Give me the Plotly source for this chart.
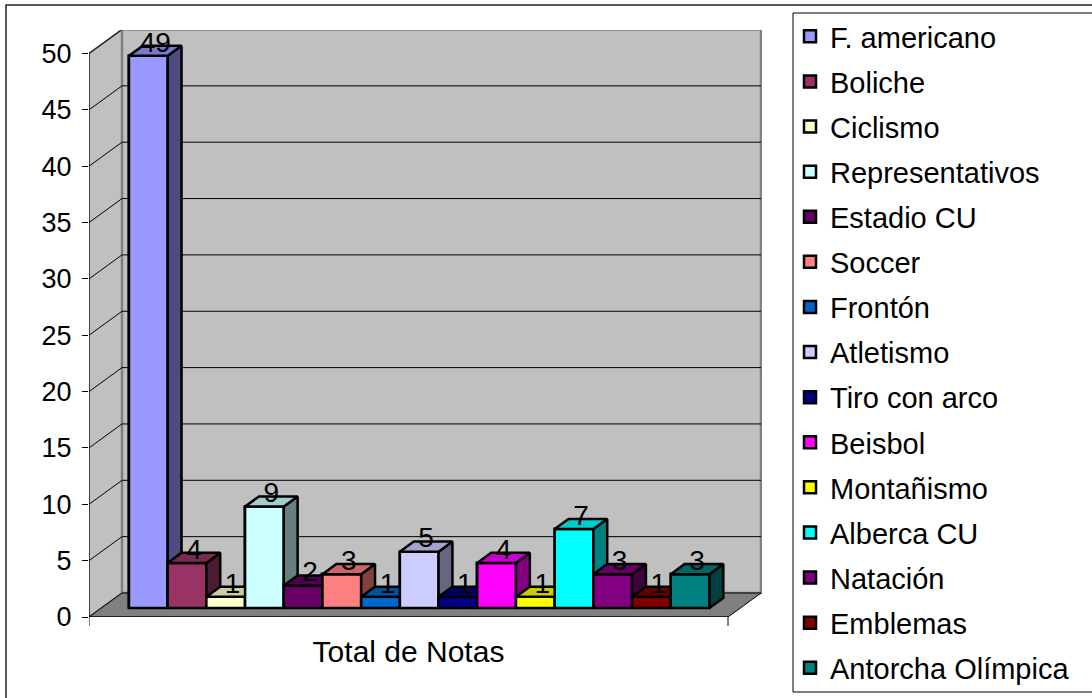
import plotly.graph_objects as go

# ---------------- data ----------------
categories = ["F. americano", "Boliche", "Ciclismo", "Representativos", "Estadio CU",
              "Soccer", "Frontón", "Atletismo", "Tiro con arco", "Beisbol",
              "Montañismo", "Alberca CU", "Natación", "Emblemas", "Antorcha Olímpica"]
values = [49, 4, 1, 9, 2, 3, 1, 5, 1, 4, 1, 7, 3, 1, 3]
y_ticks = [0, 5, 10, 15, 20, 25, 30, 35, 40, 45, 50]
x_label = "Total de Notas"

# ---------------- styles ----------------
colors = ["#9999FF", "#993366", "#FFFFCC", "#CCFFFF", "#660066",
          "#FF8080", "#0066CC", "#CCCCFF", "#000080", "#FF00FF",
          "#FFFF00", "#00FFFF", "#800080", "#800000", "#008080"]

FONT = "Liberation Sans, Arial, sans-serif"
W, H = 1092, 698
PL, PR, PT, PB = 89, 762, 30, 617          # plot area in pixels
PX_X, PX_Y = 38.7, 11.27                   # pixels per data unit
X_RANGE = [0, (PR - PL) / PX_X]
Y_RANGE = [0, (PB - PT) / PX_Y]
DEPTH_X, DEPTH_Y = 33 / PX_X, 24 / PX_Y    # 3D depth of the floor
FLOOR_W = (728 - PL) / PX_X
Y_MAX = y_ticks[-1]
F0, FD = 0.375, 0.42                       # bar front depth / bar depth fractions
SHIFT_X, SHIFT_Y = F0 * DEPTH_X, F0 * DEPTH_Y
BD_X, BD_Y = FD * DEPTH_X, FD * DEPTH_Y
GAP = 0.713
LW = 2.5


def shade(hx, f):
    hx = hx.lstrip("#")
    r, g, b = (int(hx[i:i + 2], 16) for i in (0, 2, 4))
    return "rgb(%d,%d,%d)" % (round(r * f), round(g * f), round(b * f))


def px2paper_x(px):
    return (px - PL) / (PR - PL)


def px2paper_y(py):
    return (PB - py) / (PB - PT)


fig = go.Figure()
shapes = []

# walls and floor
shapes.append(dict(type="path", layer="below",
                   path=f"M0,0 L0,{Y_MAX} L{DEPTH_X},{Y_MAX + DEPTH_Y} L{DEPTH_X},{DEPTH_Y} Z",
                   fillcolor="#C0C0C0", line=dict(color="#808080", width=2)))
shapes.append(dict(type="rect", layer="below", x0=DEPTH_X, x1=DEPTH_X + FLOOR_W,
                   y0=DEPTH_Y, y1=Y_MAX + DEPTH_Y,
                   fillcolor="#C0C0C0", line=dict(color="#808080", width=2.5)))
shapes.append(dict(type="path", layer="below",
                   path=f"M0,0 L{FLOOR_W},0 L{FLOOR_W + DEPTH_X},{DEPTH_Y} L{DEPTH_X},{DEPTH_Y} Z",
                   fillcolor="#808080", line=dict(color="black", width=1)))
# gridlines
for v in y_ticks[1:]:
    shapes.append(dict(type="line", layer="below", x0=DEPTH_X, x1=DEPTH_X + FLOOR_W,
                       y0=v + DEPTH_Y, y1=v + DEPTH_Y, line=dict(color="black", width=1)))
    shapes.append(dict(type="line", layer="below", x0=0, x1=DEPTH_X,
                       y0=v, y1=v + DEPTH_Y, line=dict(color="black", width=1)))
# axis lines
shapes.append(dict(type="line", layer="above", x0=0, x1=0, y0=0, y1=Y_MAX,
                   line=dict(color="black", width=1)))
shapes.append(dict(type="line", layer="above", x0=0, x1=FLOOR_W, y0=0, y1=0,
                   line=dict(color="black", width=1)))
for xe in (0, FLOOR_W):
    shapes.append(dict(type="line", layer="above", xref="x", yref="paper",
                       x0=xe, x1=xe, y0=0, y1=px2paper_y(PB + 9),
                       line=dict(color="black", width=1)))
# outer chart border (cropped at right/bottom)
shapes.append(dict(type="rect", xref="paper", yref="paper",
                   x0=px2paper_x(6), x1=px2paper_x(1110),
                   y0=px2paper_y(720), y1=px2paper_y(5),
                   line=dict(color="#222222", width=1.5), fillcolor="rgba(0,0,0,0)"))
# legend box
shapes.append(dict(type="rect", xref="paper", yref="paper",
                   x0=px2paper_x(793), x1=px2paper_x(1110),
                   y0=px2paper_y(692), y1=px2paper_y(13),
                   line=dict(color="black", width=1), fillcolor="white"))

# front faces as bars (legend entries)
for i, (cat, v, c) in enumerate(zip(categories, values, colors)):
    left = GAP + SHIFT_X + i
    fig.add_trace(go.Bar(
        x=[left + 0.5], y=[v], base=[SHIFT_Y], width=[1],
        marker=dict(color=c, line=dict(color="black", width=LW)),
        name=cat, legendgroup=cat, hoverinfo="name+y"))

# 3D faces drawn in order so that each following bar hides the previous side
for i, (cat, v, c) in enumerate(zip(categories, values, colors)):
    L = GAP + SHIFT_X + i
    Rr = L + 1
    B = SHIFT_Y
    T = SHIFT_Y + v
    fig.add_trace(go.Scatter(
        x=[L, Rr, Rr, L, L], y=[B, B, T, T, B], mode="lines", fill="toself",
        fillcolor=c, line=dict(color="black", width=LW), showlegend=False,
        legendgroup=cat, hoverinfo="skip"))
    fig.add_trace(go.Scatter(
        x=[Rr, Rr + BD_X, Rr + BD_X, Rr, Rr], y=[B, B + BD_Y, T + BD_Y, T, B],
        mode="lines", fill="toself", fillcolor=shade(c, 0.5),
        line=dict(color="black", width=LW), showlegend=False,
        legendgroup=cat, hoverinfo="skip"))
    fig.add_trace(go.Scatter(
        x=[L, Rr, Rr + BD_X, L + BD_X, L], y=[T, T, T + BD_Y, T + BD_Y, T],
        mode="lines", fill="toself", fillcolor=shade(c, 0.8),
        line=dict(color="black", width=LW), showlegend=False,
        legendgroup=cat, hoverinfo="skip"))

# value labels
lab_x = [GAP + SHIFT_X + i + 0.5 + BD_X / 2 for i in range(len(values))]
lab_y = [SHIFT_Y + v + BD_Y + 0.1 for v in values]
fig.add_trace(go.Scatter(
    x=lab_x, y=lab_y, mode="text", text=[str(v) for v in values],
    textposition="middle center", textfont=dict(family=FONT, size=28, color="black"),
    showlegend=False, hoverinfo="skip", cliponaxis=False))

fig.update_layout(
    width=W, height=H,
    margin=dict(l=PL, r=W - PR, t=PT, b=H - PB, pad=0),
    paper_bgcolor="white", plot_bgcolor="white",
    barmode="overlay", bargap=0,
    font=dict(family=FONT, color="black"),
    shapes=shapes,
    showlegend=True,
    legend=dict(
        xref="container", yref="container",
        x=790 / W, y=1 - 11 / H, xanchor="left", yanchor="top",
        font=dict(family=FONT, size=29, color="black"),
        bgcolor="rgba(0,0,0,0)", borderwidth=0,
        traceorder="grouped", tracegroupgap=4.4,
        maxheight=H,
    ),
    xaxis=dict(range=X_RANGE, showgrid=False, zeroline=False, showline=False,
               tickvals=[FLOOR_W / 2], ticktext=[x_label], ticks="",
               tickfont=dict(family=FONT, size=30, color="black"),
               ticklabelstandoff=14, fixedrange=True),
    yaxis=dict(range=Y_RANGE, showgrid=False, zeroline=False, showline=False,
               tickvals=y_ticks, ticktext=[str(t) for t in y_ticks],
               ticks="outside", ticklen=6, tickcolor="black", tickwidth=1,
               tickfont=dict(family=FONT, size=27, color="black"),
               ticklabelstandoff=5, fixedrange=True),
)

fig.write_html("out.html", config={"displayModeBar": False},
               post_script="document.body.style.margin='0';")
